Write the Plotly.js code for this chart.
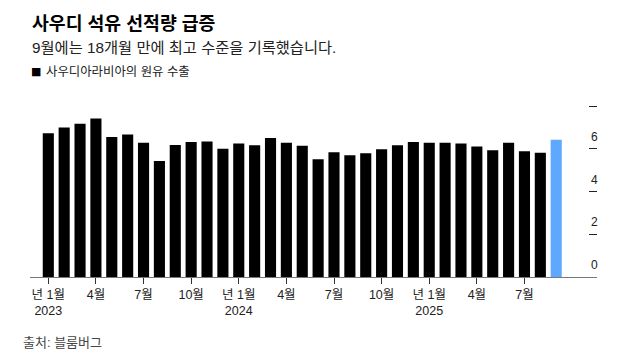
<!DOCTYPE html>
<html>
<head>
<meta charset="utf-8">
<script src="https://cdn.plot.ly/plotly-3.0.1.min.js"></script>
<style>html,body{margin:0;padding:0;background:#fff;}#chart{width:640px;height:360px;}</style>
</head>
<body>
<div id="chart"></div>
<script>
var months = ["2023-01","2023-02","2023-03","2023-04","2023-05","2023-06","2023-07","2023-08","2023-09","2023-10","2023-11","2023-12",
              "2024-01","2024-02","2024-03","2024-04","2024-05","2024-06","2024-07","2024-08","2024-09","2024-10","2024-11","2024-12",
              "2025-01","2025-02","2025-03","2025-04","2025-05","2025-06","2025-07","2025-08","2025-09"];
var exportsMbd = [6.73,7.00,7.17,7.42,6.56,6.67,6.28,5.43,6.18,6.32,6.34,6.00,
                  6.25,6.17,6.51,6.28,6.15,5.51,5.84,5.70,5.79,5.98,6.17,6.32,
                  6.28,6.29,6.25,6.11,5.93,6.28,5.89,5.82,6.43];
var tickMonths = ["2023-01","2023-04","2023-07","2023-10","2024-01","2024-04","2024-07","2024-10","2025-01","2025-04","2025-07"];
var tickLabels = ["년 1월<br>2023","4월","7월","10월","년 1월<br>2024","4월","7월","10월","년 1월<br>2025","4월","7월"];
var yTicks = [0,2,4,6,8];
var yTickLabels = ["0","2","4","6"," "];
var highlightMonth = "2025-09";

var FONT = "Liberation Sans, Arial, 'Noto Sans CJK KR', sans-serif";
var colors = months.map(function(m){ return m === highlightMonth ? "#5ea8ff" : "#000000"; });

var L = 30, R = 43, T = 104.1, B = 83;
var plotH = 360 - T - B;
function py(px){ return (360 - B - px) / plotH; }
function px(x){ return (x - L) / (640 - L - R); }

var trace = {
  type: "bar",
  x: months,
  y: exportsMbd,
  marker: {color: colors, line: {width: 0}},
  hoverinfo: "none",
  showlegend: false
};

var layout = {
  width: 640, height: 360,
  margin: {l: L, r: R, t: T, b: B, pad: 0},
  paper_bgcolor: "#ffffff",
  plot_bgcolor: "#ffffff",
  bargap: 0.3,
  font: {family: FONT, color: "#222222", size: 12},
  xaxis: {
    type: "category",
    range: [-1.153, 34.57],
    tickmode: "array",
    tickvals: tickMonths,
    ticktext: tickLabels,
    ticks: "outside",
    ticklen: 6,
    tickwidth: 1,
    tickcolor: "#333333",
    showline: true,
    linecolor: "#777777",
    linewidth: 1,
    showgrid: false,
    zeroline: false,
    tickfont: {family: FONT, size: 12.5, color: "#222222"},
    fixedrange: true
  },
  yaxis: {
    side: "right",
    range: [0, 8.1],
    tickmode: "array",
    tickvals: yTicks,
    ticktext: yTickLabels,
    ticks: "inside",
    ticklen: 8,
    tickwidth: 1,
    tickcolor: "#222222",
    showline: false,
    showgrid: false,
    zeroline: false,
    ticklabelshift: -12,
    ticklabelstandoff: -7,
    tickfont: {family: FONT, size: 12, color: "#222222"},
    fixedrange: true
  },
  annotations: [
    {text: "<b>사우디 석유 선적량 급증</b>", xref: "paper", yref: "paper", x: px(30), y: py(24),
     xanchor: "left", yanchor: "middle", showarrow: false, font: {family: FONT, size: 18.3, color: "#000000"}},
    {text: "9월에는 18개월 만에 최고 수준을 기록했습니다.", xref: "paper", yref: "paper", x: px(30), y: py(48),
     xanchor: "left", yanchor: "middle", showarrow: false, font: {family: FONT, size: 15.3, color: "#222222"}},
    {text: "■", xref: "paper", yref: "paper", x: px(29), y: py(71.5),
     xanchor: "left", yanchor: "middle", showarrow: false, font: {family: "DejaVu Sans", size: 11, color: "#000000"}},
    {text: "사우디아라비아의 원유 수출", xref: "paper", yref: "paper", x: px(44), y: py(72),
     xanchor: "left", yanchor: "middle", showarrow: false, font: {family: FONT, size: 12.4, color: "#222222"}},
    {text: "출처: 블룸버그", xref: "paper", yref: "paper", x: px(21), y: py(342),
     xanchor: "left", yanchor: "middle", showarrow: false, font: {family: FONT, size: 13, color: "#444444"}}
  ]
};

Plotly.newPlot("chart", [trace], layout, {displayModeBar: false, staticPlot: true});
</script>
</body>
</html>
